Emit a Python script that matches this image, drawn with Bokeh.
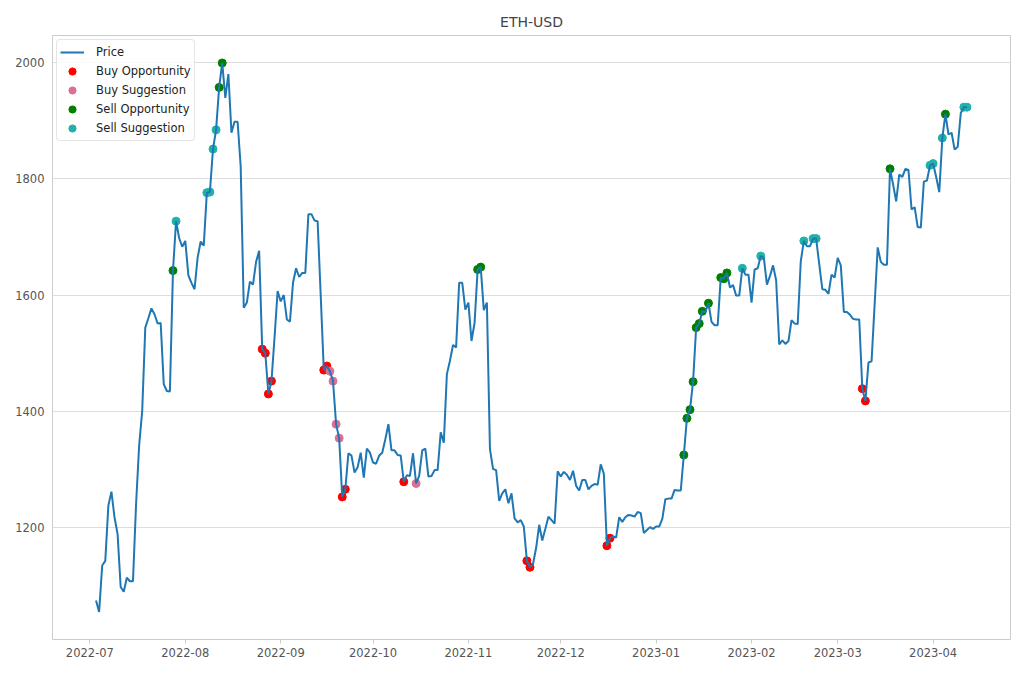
import pandas as pd
from bokeh.plotting import figure
from bokeh.models import (ColumnDataSource, Range1d, FixedTicker,
                          DatetimeTickFormatter, Legend, LegendItem)
from bokeh.embed import file_html
from bokeh.resources import INLINE

# ---------------- data ----------------
start_date = "2022-07-03"   # first daily close shown

price = [
    1075, 1055, 1135, 1143, 1238, 1262, 1218, 1189, 1098, 1090,
    1114, 1108, 1108, 1240, 1341, 1401, 1544, 1560, 1577, 1567,
    1551, 1552, 1447, 1435, 1434, 1642, 1727, 1698, 1683, 1693,
    1634, 1621, 1610, 1664, 1692, 1685, 1776, 1777, 1851, 1884,
    1957, 1999, 1939, 1980, 1879, 1898, 1898, 1821, 1578, 1587,
    1623, 1618, 1657, 1676, 1507, 1500, 1430, 1452, 1527, 1607,
    1589, 1600, 1558, 1554, 1621, 1646, 1631, 1638, 1638, 1739,
    1739, 1728, 1727, 1600, 1471, 1478, 1469, 1452, 1378, 1354,
    1253, 1266, 1328, 1324, 1295, 1304, 1329, 1286, 1336, 1329,
    1312, 1310, 1324, 1329, 1352, 1378, 1333, 1333, 1325, 1324,
    1279, 1290, 1289, 1328, 1276, 1289, 1333, 1336, 1288, 1289,
    1299, 1299, 1364, 1346, 1464, 1487, 1514, 1510, 1621, 1621,
    1575, 1587, 1521, 1552, 1644, 1648, 1574, 1587, 1335, 1301,
    1299, 1246, 1259, 1266, 1242, 1259, 1216, 1209, 1213, 1202,
    1143, 1132, 1138, 1165, 1205, 1178, 1198, 1219, 1213, 1207,
    1297, 1288, 1296, 1291, 1282, 1298, 1272, 1264, 1282, 1282,
    1266, 1272, 1275, 1274, 1309, 1293, 1169, 1182, 1185, 1183,
    1218, 1210, 1218, 1222, 1221, 1219, 1227, 1225, 1191, 1196,
    1201, 1198, 1202, 1202, 1215, 1249, 1250, 1250, 1265, 1264,
    1264, 1325, 1388, 1403, 1451, 1544, 1551, 1572, 1571, 1586,
    1554, 1548, 1548, 1630, 1628, 1638, 1613, 1617, 1599, 1599,
    1646, 1635, 1635, 1587, 1644, 1646, 1667, 1664, 1618, 1633,
    1651, 1625, 1515, 1522, 1516, 1521, 1557, 1551, 1550, 1658,
    1693, 1684, 1684, 1697, 1697, 1653, 1610, 1609, 1602, 1635,
    1630, 1664, 1651, 1571, 1571, 1566, 1559, 1558, 1558, 1439,
    1418, 1484, 1486, 1584, 1682, 1657, 1652, 1652, 1817, 1790,
    1761, 1807, 1803, 1817, 1815, 1747, 1751, 1717, 1716, 1795,
    1797, 1823, 1826, 1803, 1777, 1870, 1911, 1876, 1879, 1850,
    1855, 1913, 1923, 1923,
]

buy_opportunity_dates = [
    "2022-08-26", "2022-08-27", "2022-08-28", "2022-08-29",
    "2022-09-15", "2022-09-16", "2022-09-21", "2022-09-22",
    "2022-10-11", "2022-11-20", "2022-11-21", "2022-12-16",
    "2022-12-17", "2023-03-09", "2023-03-10",
]
buy_suggestion_dates = [
    "2022-09-17", "2022-09-18", "2022-09-19", "2022-09-20", "2022-10-15",
]
sell_opportunity_dates = [
    "2022-07-28", "2022-08-12", "2022-08-13", "2022-11-04", "2022-11-05",
    "2023-01-10", "2023-01-11", "2023-01-12", "2023-01-13", "2023-01-14",
    "2023-01-15", "2023-01-16", "2023-01-18", "2023-01-22", "2023-01-23",
    "2023-01-24", "2023-03-18", "2023-04-05",
]
sell_suggestion_dates = [
    "2022-07-29", "2022-08-08", "2022-08-09", "2022-08-10", "2022-08-11",
    "2023-01-29", "2023-02-04", "2023-02-18", "2023-02-21", "2023-02-22",
    "2023-03-31", "2023-04-01", "2023-04-04", "2023-04-11", "2023-04-12",
]

tick_dates = ["2022-07-01", "2022-08-01", "2022-09-01", "2022-10-01",
              "2022-11-01", "2022-12-01", "2023-01-01", "2023-02-01",
              "2023-03-01", "2023-04-01"]
y_ticks = [1200, 1400, 1600, 1800, 2000]

# ---------------- build ----------------
dates = pd.date_range(start_date, periods=len(price), freq="D")
series = pd.Series(price, index=dates)

def marker_source(date_list):
    d = pd.to_datetime(date_list)
    return ColumnDataSource(dict(x=d, y=series.loc[d].values))

# matplotlib-like 5% margins
span = dates[-1] - dates[0]
x0 = dates[0] - span * 0.05
x1 = dates[-1] + span * 0.05
ymin, ymax = min(price), max(price)
yr = ymax - ymin

FONT = "DejaVu Sans"
p = figure(
    output_backend="svg", toolbar_location=None,
    frame_width=958, frame_height=604,
    min_border_left=52, min_border_right=2,
    min_border_top=35, min_border_bottom=33,
    x_axis_type="datetime",
    x_range=Range1d(x0, x1),
    y_range=Range1d(ymin - 0.05 * yr, ymax + 0.05 * yr),
    title="ETH-USD",
)
p.background_fill_color = "white"
p.border_fill_color = "white"
p.outline_line_color = "#cccccc"
p.outline_line_width = 1

p.title.align = "center"
p.title.text_font = FONT
p.title.text_font_size = "14px"
p.title.text_font_style = "normal"
p.title.text_color = "#444444"
p.title.standoff = 12

p.xgrid.grid_line_color = None
p.ygrid.grid_line_color = "#dddddd"
p.ygrid.grid_line_width = 1

tick_ms = [pd.Timestamp(t).value / 1e6 for t in tick_dates]
p.xaxis.ticker = FixedTicker(ticks=tick_ms)
fmt = "%Y-%m"
p.xaxis.formatter = DatetimeTickFormatter(
    milliseconds=fmt, seconds=fmt, minsec=fmt, minutes=fmt, hourmin=fmt,
    hours=fmt, days=fmt, months=fmt, years=fmt)
p.yaxis.ticker = FixedTicker(ticks=y_ticks)

for ax in (p.xaxis, p.yaxis):
    ax.axis_line_color = None
    ax.minor_tick_line_color = None
    ax.major_label_text_font = FONT
    ax.major_label_text_font_size = "11.5px"
    ax.major_label_text_color = "#555555"
    ax.major_tick_line_color = "#cccccc"
    ax.major_tick_in = 0
p.xaxis.major_tick_out = 4
p.xaxis.major_label_standoff = 4
p.yaxis.major_tick_out = 0
p.yaxis.major_label_standoff = 8

# markers (under the line, like matplotlib's default z-order)
r_bo = p.scatter("x", "y", source=marker_source(buy_opportunity_dates),
                 size=8, color="red")
r_bs = p.scatter("x", "y", source=marker_source(buy_suggestion_dates),
                 size=8, color="palevioletred")
r_so = p.scatter("x", "y", source=marker_source(sell_opportunity_dates),
                 size=8, color="green")
r_ss = p.scatter("x", "y", source=marker_source(sell_suggestion_dates),
                 size=8, color="lightseagreen")

line_src = ColumnDataSource(dict(x=dates, y=price))
r_line = p.line("x", "y", source=line_src, line_color="#1f77b4", line_width=2)

legend = Legend(items=[
    LegendItem(label="Price", renderers=[r_line]),
    LegendItem(label="Buy Opportunity", renderers=[r_bo]),
    LegendItem(label="Buy Suggestion", renderers=[r_bs]),
    LegendItem(label="Sell Opportunity", renderers=[r_so]),
    LegendItem(label="Sell Suggestion", renderers=[r_ss]),
], location="top_left")
legend.margin = 4
legend.padding = 3
legend.spacing = 1
legend.glyph_width = 24
legend.glyph_height = 18
legend.label_height = 18
legend.label_standoff = 12
legend.label_text_font = FONT
legend.label_text_font_size = "11.5px"
legend.label_text_color = "#222222"
legend.border_line_color = "#cccccc"
legend.border_line_width = 1
legend.border_radius = 4
legend.background_fill_color = "white"
legend.background_fill_alpha = 0.85
p.add_layout(legend, "center")

open("out.html", "w").write(file_html(p, INLINE, title="ETH-USD"))
